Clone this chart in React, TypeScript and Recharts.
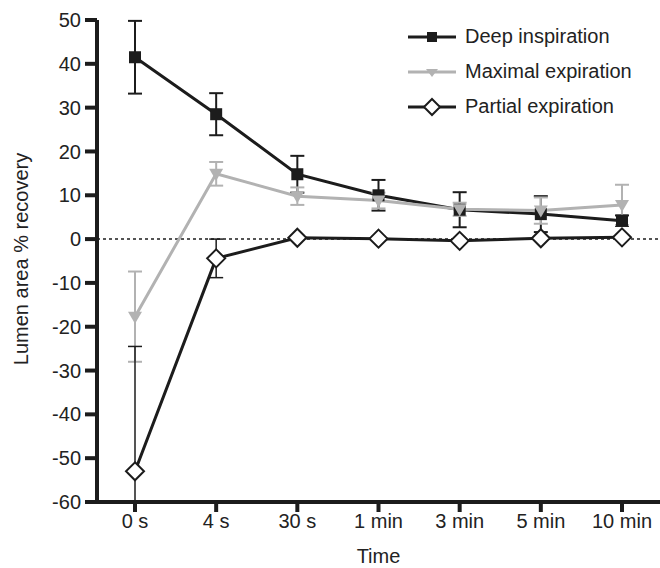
import React from 'react';
import { LineChart, Line, XAxis, YAxis, ErrorBar, ReferenceLine, Legend } from 'recharts';

const categories = ['0 s', '4 s', '30 s', '1 min', '3 min', '5 min', '10 min'];
const deepInspiration = [41.5, 28.5, 14.8, 10.0, 6.7, 5.7, 4.2];
const deepInspirationErr = [8.3, 4.8, 4.2, 3.5, 4.0, 4.1, 1.2];
const maximalExpiration = [-17.7, 14.9, 9.8, 8.8, 6.8, 6.5, 7.8];
const maximalExpirationErr = [10.3, 2.7, 2.0, 1.8, 1.5, 3.0, 4.6];
const partialExpiration = [-53, -4.4, 0.3, 0.1, -0.4, 0.2, 0.4];
const partialExpirationErr = [28.5, 4.4, 0.5, 0.5, 0.5, 0.5, 0.5];
const yTicks = [50, 40, 30, 20, 10, 0, -10, -20, -30, -40, -50, -60];

const data = categories.map((name, i) => ({
  name,
  deep: deepInspiration[i],
  deepErr: deepInspirationErr[i],
  maximal: maximalExpiration[i],
  maximalErr: maximalExpirationErr[i],
  partial: partialExpiration[i],
  partialErr: partialExpirationErr[i],
}));

const BLACK = '#1c1c1c';
const GRAY = '#b2b2b2';
const TEXT = '#222';
const FONT = 'Arial, "Liberation Sans", Helvetica, sans-serif';

// chart geometry
const W = 660;
const H = 568;
const TOP = 20;
const Y_AXIS_W = 97;
const X_AXIS_H = 66;

const SquareDot = (props: any) => {
  const { cx, cy, index } = props;
  if (cx == null || cy == null) return <g key={`sq-${index}`} />;
  return <rect key={`sq-${index}`} x={cx - 6} y={cy - 6} width={12} height={12} fill={BLACK} />;
};

const TriangleDot = (props: any) => {
  const { cx, cy, index } = props;
  if (cx == null || cy == null) return <g key={`tr-${index}`} />;
  return (
    <polygon
      key={`tr-${index}`}
      points={`${cx - 7},${cy - 5} ${cx + 7},${cy - 5} ${cx},${cy + 7}`}
      fill={GRAY}
    />
  );
};

const DiamondDot = (props: any) => {
  const { cx, cy, index } = props;
  if (cx == null || cy == null) return <g key={`di-${index}`} />;
  return (
    <polygon
      key={`di-${index}`}
      points={`${cx},${cy - 9} ${cx + 9},${cy} ${cx},${cy + 9} ${cx - 9},${cy}`}
      fill="#fff"
      stroke={BLACK}
      strokeWidth={2}
    />
  );
};

const legendItems = [
  { label: 'Deep inspiration', color: BLACK, marker: 'square' },
  { label: 'Maximal expiration', color: GRAY, marker: 'triangle' },
  { label: 'Partial expiration', color: BLACK, marker: 'diamond' },
];

const renderLegend = () => (
  <div style={{ fontFamily: FONT, fontSize: 20, color: TEXT }}>
    {legendItems.map((item) => (
      <div key={item.label} style={{ display: 'flex', alignItems: 'center', height: 35 }}>
        <svg width={52} height={20} style={{ marginRight: 7 }}>
          <line x1={2} y1={10} x2={50} y2={10} stroke={item.color} strokeWidth={3} />
          {item.marker === 'square' && <rect x={21} y={5} width={10} height={10} fill={BLACK} />}
          {item.marker === 'triangle' && <polygon points="20,7 32,7 26,15" fill={GRAY} />}
          {item.marker === 'diamond' && (
            <polygon points="26,2 34,10 26,18 18,10" fill="#fff" stroke={BLACK} strokeWidth={2} />
          )}
        </svg>
        <span>{item.label}</span>
      </div>
    ))}
  </div>
);

const YLabel = (props: any) => {
  const { viewBox } = props;
  const x = 21;
  const y = viewBox.y + viewBox.height / 2 - 2;
  return (
    <text
      x={x}
      y={y}
      transform={`rotate(-90 ${x} ${y})`}
      textAnchor="middle"
      dominantBaseline="central"
      fontSize={20}
      fill={TEXT}
      fontFamily={FONT}
    >
      Lumen area % recovery
    </text>
  );
};

const App: React.FC = () => {
  return (
    <div style={{ position: 'absolute', left: 0, top: 0, background: '#fff' }}>
      <LineChart
        width={W}
        height={H}
        data={data}
        margin={{ top: TOP, right: 0, bottom: 0, left: 0 }}
        style={{ fontFamily: FONT }}
      >
        <defs>
          <clipPath id="plot-clip">
            <rect x={Y_AXIS_W} y={TOP - 10} width={W - Y_AXIS_W} height={H - X_AXIS_H - TOP + 10} />
          </clipPath>
        </defs>
        <XAxis
          dataKey="name"
          padding={{ left: 38, right: 38 }}
          axisLine={{ stroke: BLACK, strokeWidth: 4 }}
          tickLine={{ stroke: BLACK, strokeWidth: 4 }}
          tickSize={10}
          tickMargin={2}
          tick={{ fontSize: 20, fill: TEXT }}
          height={X_AXIS_H}
          label={{ value: 'Time', position: 'insideBottom', offset: 5, fontSize: 20, fill: TEXT }}
        />
        <YAxis
          type="number"
          domain={[-60, 50]}
          ticks={yTicks}
          allowDataOverflow
          interval={0}
          width={Y_AXIS_W}
          axisLine={{ stroke: BLACK, strokeWidth: 4 }}
          tickLine={{ stroke: BLACK, strokeWidth: 4 }}
          tickSize={12}
          tickMargin={4}
          tick={{ fontSize: 20, fill: TEXT }}
          label={<YLabel />}
        />
        <ReferenceLine y={0} stroke={BLACK} strokeWidth={1.5} strokeDasharray="3 3" />
        <Line
          dataKey="deep"
          name="Deep inspiration"
          stroke={BLACK}
          strokeWidth={3}
          dot={SquareDot}
          activeDot={false}
          isAnimationActive={false}
        >
          <ErrorBar dataKey="deepErr" stroke={BLACK} strokeWidth={2} width={7} />
        </Line>
        <Line
          dataKey="maximal"
          name="Maximal expiration"
          stroke={GRAY}
          strokeWidth={3}
          dot={TriangleDot}
          activeDot={false}
          isAnimationActive={false}
        >
          <ErrorBar dataKey="maximalErr" stroke={GRAY} strokeWidth={2} width={7} />
        </Line>
        <Line
          dataKey="partial"
          name="Partial expiration"
          stroke={BLACK}
          strokeWidth={3}
          dot={DiamondDot}
          activeDot={false}
          isAnimationActive={false}
        >
          <ErrorBar
            dataKey="partialErr"
            stroke={BLACK}
            strokeWidth={1.5}
            width={7}
            clipPath="url(#plot-clip)"
          />
        </Line>
        <Legend
          layout="vertical"
          align="center"
          verticalAlign="middle"
          content={renderLegend}
          wrapperStyle={{ left: 406, top: 19, width: 254, height: 'auto' }}
        />
      </LineChart>
    </div>
  );
};

export default App;
